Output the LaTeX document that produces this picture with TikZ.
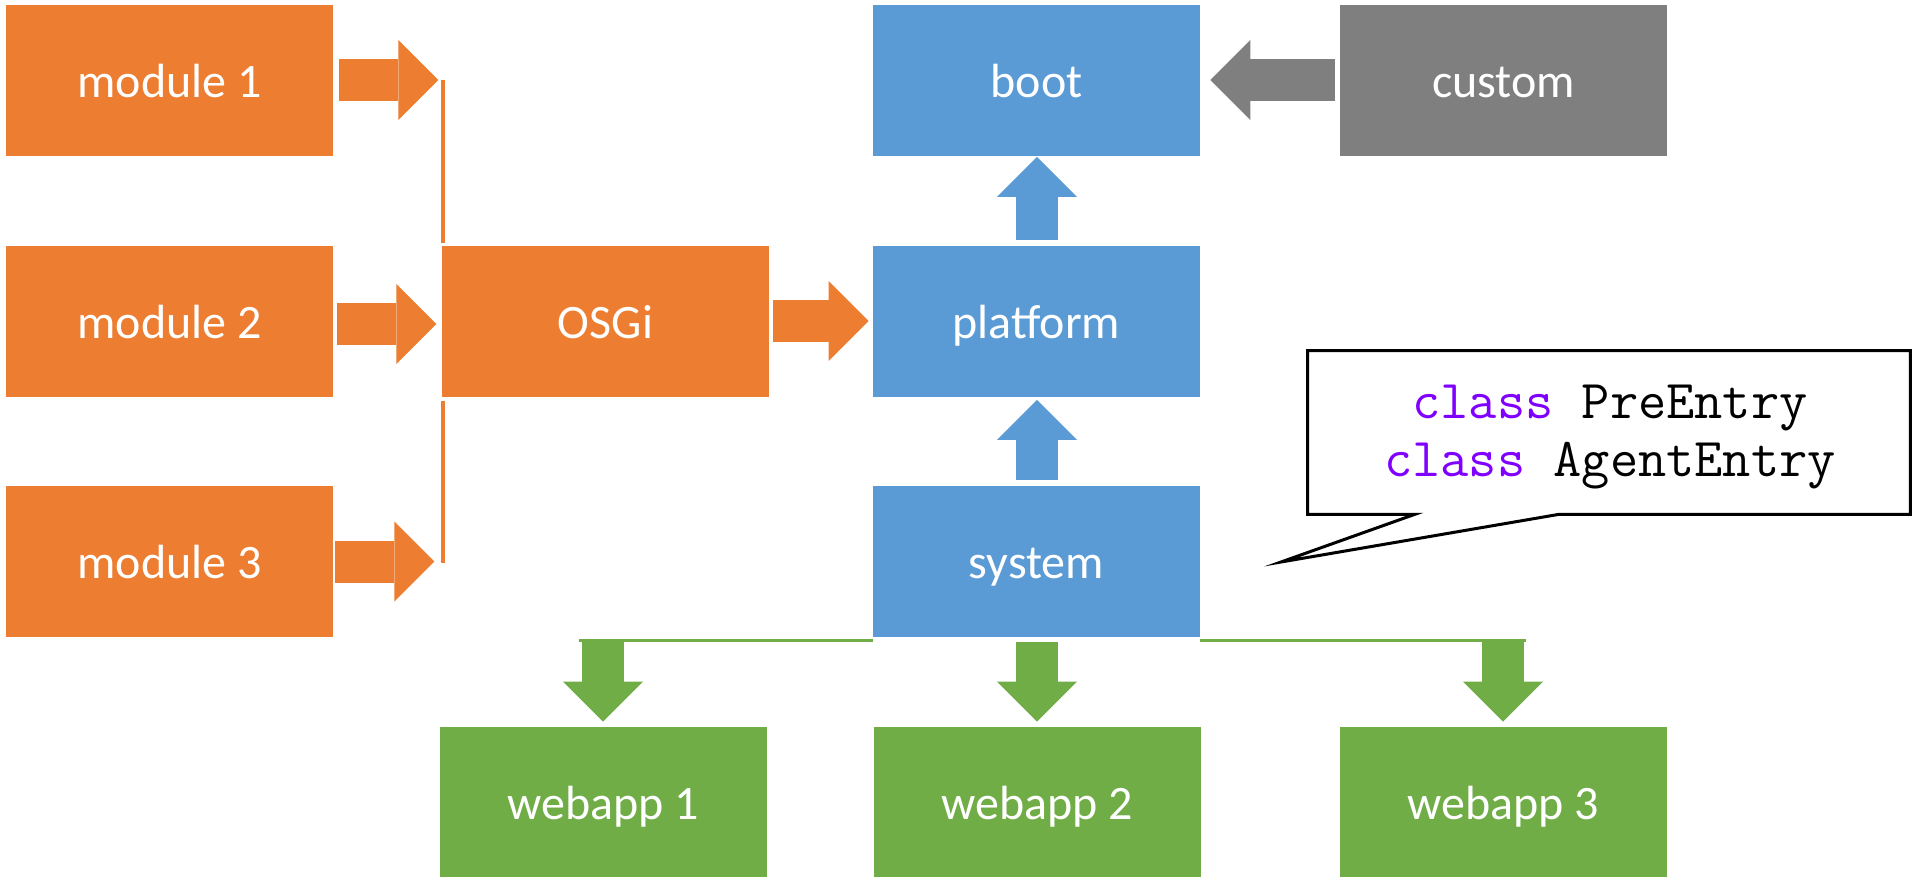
\documentclass[tikz,border=0pt]{standalone}
\usepackage{fontspec}
\setmainfont{Carlito}
\usetikzlibrary{arrows.meta,calc}
\definecolor{orng}{HTML}{ED7D31}
\definecolor{blu}{HTML}{5B9BD5}
\definecolor{gry}{HTML}{7F7F7F}
\definecolor{grn}{HTML}{70AD47}
\definecolor{kw}{HTML}{8000FF}
\begin{document}
\begin{tikzpicture}[x=0.5pt,y=-0.5pt,
  box/.style={rectangle, inner sep=0pt, minimum width=163.5pt, minimum height=75.5pt, text=white,
    text height=17pt, text depth=0pt, font=\fontsize{24}{28}\selectfont},
  blk/.style={line width=21pt, -{Triangle[length=20pt,width=40pt,line width=0pt]}},
  thinline/.style={line width=2pt},
  code/.style={anchor=base, inner sep=0pt, font=\ttfamily\fontsize{27.4}{32}\selectfont},
]
\useasboundingbox (0,0) rectangle (1913,879);

% boxes
\node[box, fill=orng] (m1) at (169.5,80) {module 1};
\node[box, fill=orng] (m2) at (169.5,321) {module 2};
\node[box, fill=orng] (m3) at (169.5,561.5) {module 3};
\node[box, fill=orng] (osgi) at (605.5,321) {OSGi};
\node[box, fill=blu] (boot) at (1036.5,80) {boot};
\node[box, fill=gry] (custom) at (1503.5,80) {custom};
\node[box, fill=blu] (platform) at (1036.5,321) {platform};
\node[box, fill=blu] (system) at (1036.5,561.5) {system};
\node[box, fill=grn, minimum height=75pt] (w1) at (603,802) {webapp 1};
\node[box, fill=grn, minimum height=75pt] (w2) at (1037,802) {webapp 2};
\node[box, fill=grn, minimum height=75pt] (w3) at (1503,802) {webapp 3};

% module arrows and bracket
\draw[blk, orng] ($(m1.east)+(6,0)$) -- ($(m1.east)+(105,0)$);
\draw[blk, orng] ($(m2.east)+(4,3)$) -- ($(m2.east)+(103,3)$);
\draw[blk, orng] ($(m3.east)+(2,0)$) -- ($(m3.east)+(101,0)$);
\draw[thinline, orng] ($(osgi.north west)+(1,-2)$) -- ($(osgi.north west)+(1,-165)$);
\draw[thinline, orng] ($(osgi.south west)+(1,4)$) -- ($(osgi.south west)+(1,166)$);

% OSGi -> platform
\draw[blk, orng] ($(osgi.east)+(4,0)$) -- ($(platform.west)+(-4,0)$);
% custom -> boot
\draw[blk, gry] ($(custom.west)+(-5,0)$) -- ($(boot.east)+(10,0)$);
% platform -> boot, system -> platform
\draw[blk, blu] ($(platform.north)+(0.5,-5)$) -- ($(boot.south)+(0.5,1)$);
\draw[blk, blu] ($(system.north)+(0.5,-6)$) -- ($(platform.south)+(0.5,3)$);

% green distribution line
\coordinate (gl) at (579,640);
\coordinate (gr) at (1526,640);
\draw[line width=1.5pt, grn] (gl) -- (gl -| system.west);
\draw[line width=1.5pt, grn] (gr -| system.east) -- (gr);
\draw[blk, grn] (w1.north |- 0,642) -- ($(w1.north)+(0,-5)$);
\draw[blk, grn] ($(system.south)+(0.5,5)$) -- ($(w2.north)+(0,-5)$);
\draw[blk, grn] (w3.north |- 0,642) -- ($(w3.north)+(0,-5)$);

% callout
\node[rectangle, inner sep=0pt, minimum width=301pt, minimum height=81.5pt] (callout) at (1609,432.5) {};
\coordinate (tip) at (1281,562);
\draw[line width=1.5pt, line join=miter, miter limit=20]
  (callout.north west) -- (callout.north east) -- (callout.south east)
  -- ($(callout.south west)+(251,0)$) -- (tip) -- ($(callout.south west)+(107,0)$)
  -- (callout.south west) -- cycle;
\node[code] (code1) at (1610,418) {\textcolor{kw}{class} PreEntry};
\node[code] (code2) at (1610,476) {\textcolor{kw}{class} AgentEntry};
\end{tikzpicture}
\end{document}
